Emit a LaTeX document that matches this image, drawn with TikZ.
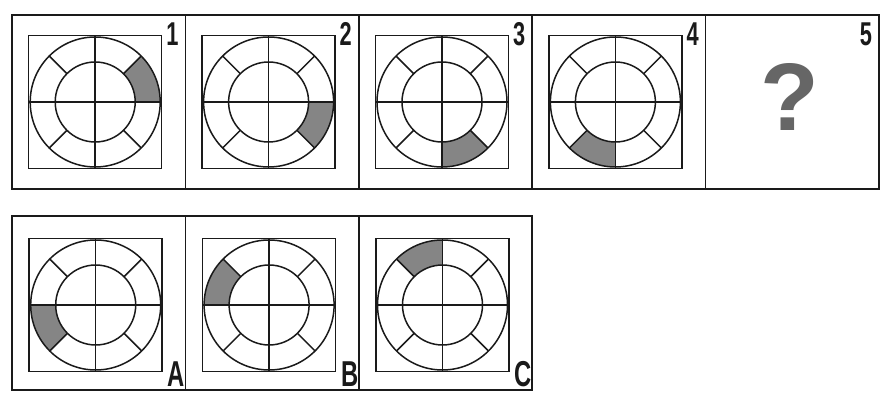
\documentclass[tikz,border=0pt]{standalone}
\usepackage{fontspec}
\setmainfont{Liberation Sans}
\newfontfamily\tagfont{Liberation Sans}[FakeStretch=0.66]
\usetikzlibrary{positioning}
\definecolor{RingInk}{HTML}{1A1A1A}
\definecolor{RingShade}{HTML}{858585}
\definecolor{AskShade}{HTML}{666666}

% #1 square node, #2 start angle of the shaded piece
\newcommand{\ringpanel}[2]{%
  \begin{scope}[shift={(#1.center)}]
    \fill[RingShade] (#2:40) -- (#2:65) arc[start angle=#2,delta angle=45,radius=65]
      -- ({#2+45}:40) arc[start angle={#2+45},delta angle=-45,radius=40] -- cycle;
    \draw[ring] (0,0) circle[radius=65] (0,0) circle[radius=40];
    \foreach \a in {45,135,225,315} \draw[ring] (\a:40) -- (\a:65);
  \end{scope}
  \draw[ring] (#1.west) -- (#1.east) (#1.north) -- (#1.south);
}

\begin{document}
\begin{tikzpicture}[x=1pt,y=1pt,
  cell/.style={rectangle,draw=RingInk,line width=1.5pt,inner sep=0pt,outer sep=0pt,minimum width=173.4pt,minimum height=174pt},
  frame/.style={rectangle,draw=RingInk,line width=1.5pt,inner sep=0pt,outer sep=0pt,minimum size=133pt},
  ring/.style={draw=RingInk,line width=1.5pt},
  numtag/.style={inner sep=0pt,text=RingInk,font=\tagfont\bfseries\fontsize{33}{33}\selectfont},
  lettertag/.style={inner sep=0pt,text=RingInk,font=\tagfont\bfseries\fontsize{36}{36}\selectfont},
  asktag/.style={inner sep=0pt,text=AskShade,font=\bfseries\fontsize{96}{96}\selectfont}
]
\fill[white] (0,0) rectangle (881,395);
\useasboundingbox (0,0) rectangle (881,395);

% question row
\node[cell] (c1) at (98.7,293) {};
\node[cell,right=0pt of c1] (c2) {};
\node[cell,right=0pt of c2] (c3) {};
\node[cell,right=0pt of c3] (c4) {};
\node[cell,right=0pt of c4] (c5) {};

% answer row
\node[cell,below=27pt of c1] (ca) {};
\node[cell,right=0pt of ca] (cb) {};
\node[cell,right=0pt of cb] (cc) {};

% squares with the rings
\foreach \c in {c1,c2,c3,c4}
  \node[frame] (s\c) at ([xshift=-3.5pt]\c.center) {};
\foreach \c in {ca,cb,cc}
  \node[frame] (s\c) at ([xshift=-3pt,yshift=-2pt]\c.center) {};

\ringpanel{sc1}{0}
\ringpanel{sc2}{-45}
\ringpanel{sc3}{-90}
\ringpanel{sc4}{-135}
\ringpanel{sca}{180}
\ringpanel{scb}{135}
\ringpanel{scc}{90}

% labels
\node[numtag] (t1) at ([xshift=-13pt,yshift=-19pt]c1.north east) {1};
\node[numtag] (t2) at ([xshift=-13pt,yshift=-19pt]c2.north east) {2};
\node[numtag] (t3) at ([xshift=-13pt,yshift=-19pt]c3.north east) {3};
\node[numtag] (t4) at ([xshift=-13pt,yshift=-19pt]c4.north east) {4};
\node[numtag] (t5) at ([xshift=-13pt,yshift=-19pt]c5.north east) {5};
\node[lettertag] (ta) at ([xshift=-9pt,yshift=16pt]ca.south east) {A};
\node[lettertag] (tb) at ([xshift=-9pt,yshift=16pt]cb.south east) {B};
\node[lettertag] (tc) at ([xshift=-9pt,yshift=16pt]cc.south east) {C};

\node[asktag] (ask) at ([xshift=-2.5pt,yshift=5pt]c5.center) {?};
\end{tikzpicture}
\end{document}
